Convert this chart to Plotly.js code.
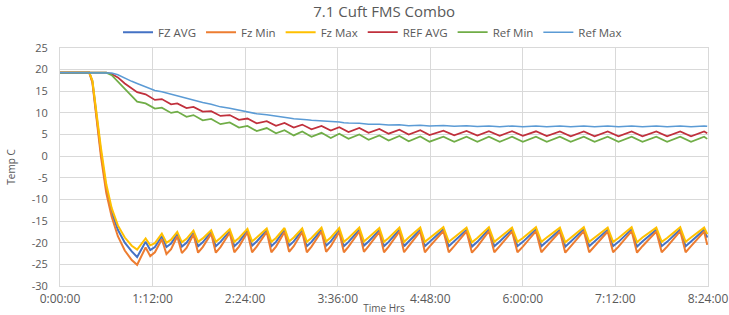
<!DOCTYPE html>
<html>
<head>
<meta charset="utf-8">
<script src="https://cdn.plot.ly/plotly-3.0.1.min.js"></script>
<style>
  html, body { margin: 0; padding: 0; background: #ffffff; }
  #chart { width: 729px; height: 315px; }
</style>
</head>
<body>
<div id="chart"></div>
<script>
// Time in hours (shared by all series)
const timeHrs = [0, 0.38, 0.42, 0.47, 0.53, 0.60, 0.67, 0.75, 0.84, 0.93, 1.00,
  1.11, 1.17, 1.23,
  1.32, 1.38, 1.44,
  1.52, 1.58, 1.64,
  1.73, 1.79, 1.85,
  1.96, 2.02, 2.08,
  2.20, 2.26, 2.32,
  2.43, 2.49, 2.55,
  2.68, 2.74, 2.80,
  2.91, 2.97, 3.03,
  3.14, 3.20, 3.26,
  3.39, 3.45, 3.51,
  3.62, 3.68, 3.74,
  3.88, 3.94, 4.00,
  4.14, 4.20, 4.26,
  4.40, 4.46, 4.52,
  4.67, 4.73, 4.79,
  4.97, 5.04, 5.11,
  5.27, 5.34, 5.41,
  5.56, 5.63, 5.70,
  5.86, 5.93, 6.00,
  6.17, 6.24, 6.31,
  6.48, 6.55, 6.62,
  6.79, 6.86, 6.93,
  7.10, 7.17, 7.24,
  7.41, 7.48, 7.55,
  7.73, 7.80, 7.87,
  8.04, 8.11, 8.18,
  8.35, 8.39];

const fzAvg = [19.3, 19.3, 17.3, 9.5, 1.0, -7.5, -13.0, -17.0, -20.0, -22.0, -23.3,
  -19.8, -21.7, -21.0,
  -18.5, -21.0, -20.2,
  -18.0, -20.9, -20.0,
  -17.7, -20.8, -19.9,
  -17.5, -20.8, -19.8,
  -17.3, -20.8, -19.8,
  -17.2, -20.7, -19.7,
  -17.1, -20.8, -19.8,
  -17.0, -20.7, -19.7,
  -17.1, -20.8, -19.8,
  -17.0, -20.7, -19.7,
  -17.1, -20.8, -19.8,
  -17.0, -20.7, -19.7,
  -17.1, -20.8, -19.8,
  -17.0, -20.8, -19.7,
  -17.0, -20.8, -19.8,
  -16.9, -20.8, -19.7,
  -17.0, -20.9, -19.8,
  -16.9, -20.8, -19.7,
  -17.0, -20.8, -19.8,
  -16.9, -20.8, -19.7,
  -17.0, -20.9, -19.8,
  -16.9, -20.8, -19.7,
  -17.0, -20.8, -19.8,
  -16.9, -20.9, -19.7,
  -17.0, -20.8, -19.8,
  -16.9, -20.8, -19.7,
  -17.0, -18.8];

const fzMin = [19.3, 19.3, 17.0, 9.0, 0.0, -8.5, -14.0, -18.5, -21.8, -24.0, -25.1,
  -21.1, -23.1, -22.2,
  -19.2, -22.6, -21.5,
  -18.5, -22.4, -21.2,
  -18.1, -22.3, -21.0,
  -17.9, -22.3, -21.0,
  -17.7, -22.2, -20.9,
  -17.6, -22.2, -20.9,
  -17.5, -22.2, -20.9,
  -17.5, -22.1, -20.8,
  -17.5, -22.2, -20.9,
  -17.4, -22.1, -20.8,
  -17.5, -22.2, -20.9,
  -17.4, -22.1, -20.8,
  -17.5, -22.2, -20.9,
  -17.4, -22.2, -20.8,
  -17.4, -22.2, -20.9,
  -17.3, -22.2, -20.8,
  -17.4, -22.3, -20.9,
  -17.3, -22.2, -20.8,
  -17.4, -22.2, -20.9,
  -17.3, -22.2, -20.8,
  -17.4, -22.3, -20.9,
  -17.3, -22.2, -20.8,
  -17.4, -22.2, -20.9,
  -17.3, -22.3, -20.8,
  -17.4, -22.2, -20.9,
  -17.3, -22.2, -20.8,
  -17.4, -20.5];

const fzMax = [19.3, 19.3, 17.5, 10.0, 2.0, -6.5, -12.0, -16.0, -18.8, -20.7, -21.6,
  -19.0, -20.6, -20.1,
  -17.9, -20.0, -19.3,
  -17.5, -19.9, -19.1,
  -17.2, -19.8, -19.0,
  -17.1, -19.8, -18.9,
  -16.9, -19.8, -18.9,
  -16.8, -19.7, -18.8,
  -16.7, -19.8, -18.9,
  -16.6, -19.7, -18.8,
  -16.7, -19.8, -18.9,
  -16.5, -19.7, -18.8,
  -16.6, -19.8, -18.9,
  -16.5, -19.7, -18.8,
  -16.6, -19.8, -18.9,
  -16.5, -19.8, -18.8,
  -16.5, -19.8, -18.9,
  -16.4, -19.8, -18.8,
  -16.5, -19.9, -18.9,
  -16.4, -19.8, -18.8,
  -16.5, -19.8, -18.9,
  -16.4, -19.8, -18.8,
  -16.5, -19.9, -18.9,
  -16.4, -19.8, -18.8,
  -16.5, -19.8, -18.9,
  -16.4, -19.9, -18.8,
  -16.5, -19.8, -18.9,
  -16.4, -19.8, -18.8,
  -16.5, -18.0];

const refAvg = [19.3, 19.3, 19.3, 19.3, 19.3, 19.3, 19.0, 18.2, 16.8, 15.6, 14.8,
  14.3, 13.6, 13.0,
  13.2, 12.6, 12.0,
  12.2, 11.7, 11.1,
  11.4, 10.9, 10.3,
  10.4, 9.9, 9.3,
  9.5, 9.0, 8.4,
  8.7, 8.2, 7.6,
  8.1, 7.6, 7.0,
  7.7, 7.2, 6.6,
  7.3, 6.8, 6.2,
  7.0, 6.5, 5.9,
  6.7, 6.2, 5.6,
  6.5, 6.0, 5.4,
  6.3, 5.8, 5.2,
  6.1, 5.6, 5.0,
  6.0, 5.5, 4.9,
  5.9, 5.4, 4.8,
  5.85, 5.35, 4.75,
  5.8, 5.3, 4.7,
  5.8, 5.3, 4.7,
  5.75, 5.25, 4.65,
  5.7, 5.2, 4.6,
  5.7, 5.2, 4.6,
  5.7, 5.2, 4.6,
  5.7, 5.2, 4.6,
  5.7, 5.2, 4.6,
  5.7, 5.2, 4.6,
  5.7, 5.3];

const refMin = [19.3, 19.3, 19.3, 19.3, 19.3, 19.3, 18.7, 17.2, 15.4, 13.7, 12.6,
  12.2, 11.6, 11.0,
  11.2, 10.6, 10.0,
  10.3, 9.7, 9.1,
  9.5, 8.9, 8.3,
  8.6, 8.0, 7.4,
  7.8, 7.2, 6.6,
  7.0, 6.4, 5.8,
  6.5, 5.9, 5.3,
  6.0, 5.4, 4.8,
  5.7, 5.1, 4.5,
  5.4, 4.8, 4.2,
  5.2, 4.6, 4.0,
  5.0, 4.4, 3.8,
  4.8, 4.2, 3.6,
  4.65, 4.05, 3.45,
  4.55, 3.95, 3.35,
  4.5, 3.9, 3.3,
  4.5, 3.9, 3.3,
  4.5, 3.9, 3.3,
  4.5, 3.9, 3.3,
  4.5, 3.9, 3.3,
  4.5, 3.9, 3.3,
  4.5, 3.9, 3.3,
  4.5, 3.9, 3.3,
  4.5, 3.9, 3.3,
  4.5, 3.9, 3.3,
  4.5, 3.9, 3.3,
  4.5, 4.0];

const refMax = [19.3, 19.3, 19.3, 19.3, 19.3, 19.3, 19.2, 18.8, 18.0, 17.3, 16.8,
  16.0, 15.6, 15.2,
  14.9, 14.6, 14.3,
  14.0, 13.7, 13.4,
  13.0, 12.7, 12.4,
  12.0, 11.7, 11.4,
  11.1, 10.85, 10.6,
  10.3, 10.05, 9.8,
  9.6, 9.4, 9.2,
  9.0, 8.8, 8.65,
  8.6, 8.4, 8.3,
  8.2, 8.05, 7.95,
  7.9, 7.75, 7.65,
  7.6, 7.5, 7.4,
  7.4, 7.3, 7.2,
  7.25, 7.15, 7.05,
  7.15, 7.05, 6.95,
  7.1, 7.0, 6.9,
  7.05, 6.95, 6.85,
  7.0, 6.9, 6.8,
  7.0, 6.9, 6.8,
  7.0, 6.9, 6.8,
  7.0, 6.9, 6.8,
  7.0, 6.9, 6.8,
  7.0, 6.9, 6.8,
  7.0, 6.9, 6.8,
  7.0, 6.9, 6.8,
  7.0, 6.9, 6.8,
  7.0, 6.9];

const seriesNames = ['FZ AVG', 'Fz Min', 'Fz Max', 'REF AVG', 'Ref Min', 'Ref Max'];
const xTickVals = [0, 1.2, 2.4, 3.6, 4.8, 6.0, 7.2, 8.4];
const xTickText = ['0:00:00', '1:12:00', '2:24:00', '3:36:00', '4:48:00', '6:00:00', '7:12:00', '8:24:00'];
const yTickVals = [-30, -25, -20, -15, -10, -5, 0, 5, 10, 15, 20, 25];
const yTickText = ['-30', '-25', '-20', '-15', '-10', '-5', '0', '5', '10', '15', '20', '25'];

const seriesData = [fzAvg, fzMin, fzMax, refAvg, refMin, refMax];
const colors = ['#4472C4', '#ED7D31', '#FFC000', '#C0303C', '#70AD47', '#5B9BD5'];
const widths = [2, 2, 2, 1.75, 1.75, 1.5];

const traces = seriesData.map((ys, i) => ({
  type: 'scatter',
  mode: 'lines',
  name: seriesNames[i],
  x: timeHrs,
  y: ys,
  line: { color: colors[i], width: widths[i] }
}));

const fontFam = '"Open Sans", "Noto Sans", sans-serif';
const txt = '#595959';
const grid = '#d9d9d9';

const layout = {
  width: 729,
  height: 315,
  margin: { l: 60, r: 21, t: 48, b: 29 },
  paper_bgcolor: '#ffffff',
  plot_bgcolor: '#ffffff',
  font: { family: fontFam, color: txt, size: 11 },
  title: {
    text: '7.1 Cuft FMS Combo',
    font: { family: fontFam, size: 15, color: txt },
    x: 0.527, xanchor: 'center', xref: 'container',
    y: 0.962, yanchor: 'middle', yref: 'container'
  },
  showlegend: true,
  legend: {
    orientation: 'h',
    x: 0.511, xanchor: 'center', xref: 'container',
    y: 0.898, yanchor: 'middle', yref: 'container',
    font: { family: fontFam, size: 11.5, color: txt },
    bgcolor: 'rgba(0,0,0,0)',
    itemwidth: 30,
    traceorder: 'normal'
  },
  xaxis: {
    range: [0, 8.4],
    tickmode: 'array',
    tickvals: xTickVals,
    ticktext: xTickText,
    showgrid: true,
    gridcolor: grid,
    gridwidth: 1,
    zeroline: false,
    showline: true,
    linecolor: grid,
    linewidth: 1,
    mirror: true,
    ticks: '',
    ticklabelstandoff: 2,
    tickfont: { family: fontFam, size: 12, color: txt },
    automargin: false,
    title: { text: 'Time Hrs', font: { family: fontFam, size: 10, color: txt }, standoff: 0 }
  },
  yaxis: {
    range: [-30, 25],
    tickmode: 'array',
    tickvals: yTickVals,
    ticktext: yTickText,
    showgrid: true,
    gridcolor: grid,
    gridwidth: 1,
    zeroline: false,
    showline: true,
    linecolor: grid,
    linewidth: 1,
    mirror: true,
    ticks: '',
    ticklabelstandoff: 9,
    tickfont: { family: fontFam, size: 11, color: txt },
    automargin: false,
    title: { text: 'Temp C', font: { family: fontFam, size: 10, color: txt }, standoff: 14 }
  }
};

Plotly.newPlot('chart', traces, layout, { displayModeBar: false, staticPlot: true });
</script>
</body>
</html>
